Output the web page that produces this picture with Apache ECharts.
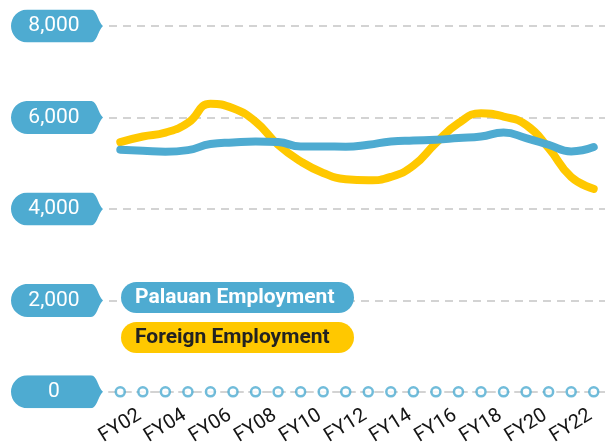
<!DOCTYPE html>
<html>
<head>
<meta charset="utf-8">
<script src="https://cdn.jsdelivr.net/npm/echarts@6/dist/echarts.min.js"></script>
<style>
  html, body { margin: 0; padding: 0; background: #fff; }
  #main { width: 605px; height: 448px; }
</style>
</head>
<body>
<div id="main"></div>
<script>
// fiscal years on the x axis
const years = ['FY02', 'FY03', 'FY04', 'FY05', 'FY06', 'FY07', 'FY08', 'FY09', 'FY10', 'FY11', 'FY12',
  'FY13', 'FY14', 'FY15', 'FY16', 'FY17', 'FY18', 'FY19', 'FY20', 'FY21', 'FY22', 'FY23']

const palauan = [5294, 5272, 5250, 5285, 5418, 5453, 5475, 5462, 5366, 5366, 5359,
  5403, 5475, 5497, 5512, 5549, 5584, 5671, 5549, 5403, 5257, 5353]
const foreign = [5462, 5584, 5670, 5880, 6300, 6200, 5910, 5403, 5040, 4787, 4650,
  4626, 4700, 4946, 5440, 5875, 6093, 6019, 5838, 5331, 4700, 4439]

// little circles sitting on the zero line
const baseline = [0, 0, 0, 0, 0, 0, 0, 0, 0, 0, 0, 0, 0, 0, 0, 0, 0, 0, 0, 0, 0, 0]

const blue = '#4eabd1'
const yellow = '#ffc800'

// tag shape behind the y labels (pill with a point on the right)
const tagSvg = '<svg xmlns="http://www.w3.org/2000/svg" width="92" height="33" viewBox="0 0 92 33">' +
  '<path d="M16.5 0 H80 C86 0 87 12 92 16.5 C87 21 86 33 80 33 H16.5 A16.5 16.5 0 0 1 16.5 0 Z" fill="' + blue + '"/></svg>'
const tagImg = 'data:image/svg+xml;charset=utf-8,' + encodeURIComponent(tagSvg)

const chart = echarts.init(document.getElementById('main'))

const option = {
  animation: false,
  textStyle: { fontFamily: 'Roboto' },
  grid: {
    left: 109,
    right: -6,
    top: 26,
    bottom: 55
  },
  legend: {
    orient: 'vertical',
    left: 111,
    top: 277,
    itemGap: 9,
    icon: 'none',
    itemWidth: 0,
    itemHeight: 0,
    selectedMode: false,
    textStyle: {
      fontSize: 21,
      fontWeight: 'bold',
      lineHeight: 21,
      borderRadius: 16,
      padding: [5, 14, 5, 14],
      width: 205
    },
    data: [
      { name: 'Palauan Employment', textStyle: { backgroundColor: blue, color: '#fff' } },
      { name: 'Foreign Employment', textStyle: { backgroundColor: yellow, color: '#222' } }
    ]
  },
  xAxis: {
    type: 'category',
    data: years,
    boundaryGap: true,
    axisLine: {
      show: true,
      lineStyle: { color: '#d3d3d3', width: 2, type: [8, 6] }
    },
    axisTick: { show: false },
    axisLabel: {
      interval: 1,
      rotate: 32,
      align: 'center',
      verticalAlign: 'middle',
      margin: 34,
      fontSize: 20,
      color: '#151515'
    },
    splitLine: { show: false }
  },
  yAxis: {
    type: 'value',
    min: 0,
    max: 8000,
    interval: 2000,
    axisLine: { show: false },
    axisTick: { show: false },
    splitLine: {
      lineStyle: { color: '#d3d3d3', width: 2, type: [8, 6] }
    },
    axisLabel: {
      margin: 6,
      formatter: function (v) {
        return '{p|' + v.toLocaleString('en-US') + '}'
      },
      rich: {
        p: {
          width: 86,
          height: 33,
          lineHeight: 33,
          padding: [0, 6, 0, 0],
          align: 'center',
          color: '#fff',
          fontSize: 21,
          backgroundColor: { image: tagImg }
        }
      }
    }
  },
  series: [
    {
      name: 'Foreign Employment',
      type: 'line',
      data: foreign,
      smooth: 0.5,
      symbol: 'none',
      color: yellow,
      lineStyle: { width: 8, color: yellow, cap: 'round' },
      z: 3
    },
    {
      name: 'Palauan Employment',
      type: 'line',
      data: palauan,
      smooth: 0.5,
      symbol: 'none',
      color: blue,
      lineStyle: { width: 8, color: blue, cap: 'round' },
      z: 4
    },
    {
      name: 'base',
      type: 'scatter',
      data: baseline,
      symbol: 'circle',
      symbolSize: 9,
      clip: false,
      itemStyle: { color: '#fff', borderColor: blue, borderWidth: 2.5 },
      z: 5
    }
  ]
}

chart.setOption(option)
</script>
</body>
</html>
